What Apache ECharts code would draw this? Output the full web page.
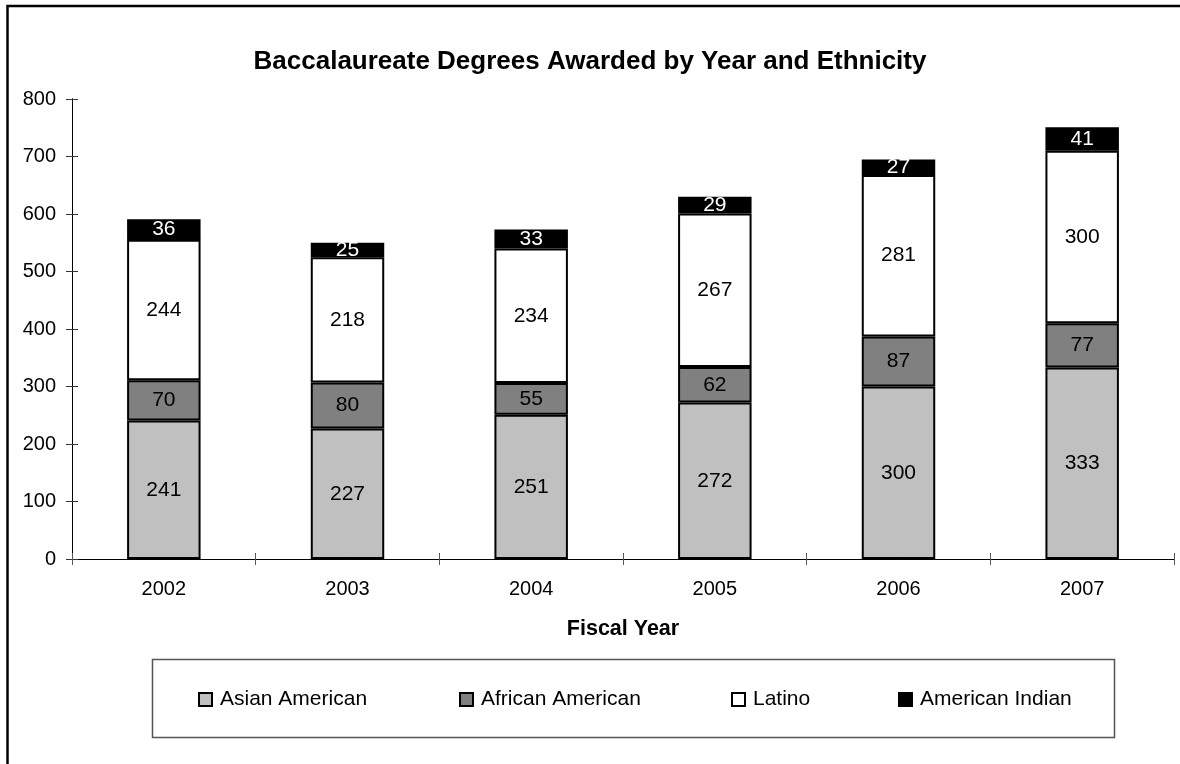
<!DOCTYPE html>
<html>
<head>
<meta charset="utf-8">
<script src="https://cdn.jsdelivr.net/npm/echarts@6/dist/echarts.min.js"></script>
<style>
html,body{margin:0;padding:0;background:#fff;}
#main{width:1180px;height:764px;}
</style>
</head>
<body>
<div id="main"></div>
<script>
const categories = ['2002', '2003', '2004', '2005', '2006', '2007'];
const asianAmerican = [241, 227, 251, 272, 300, 333];
const africanAmerican = [70, 80, 55, 62, 87, 77];
const latino = [244, 218, 234, 267, 281, 300];
const americanIndian = [36, 25, 33, 29, 27, 41];
const seriesNames = ['Asian American', 'African American', 'Latino', 'American Indian'];
const yTicks = [0, 100, 200, 300, 400, 500, 600, 700, 800];

const FONT = "'Liberation Sans', Arial, sans-serif";
const colors = ['#C0C0C0', '#808080', '#FFFFFF', '#000000'];
const labelColors = ['#000', '#000', '#000', '#fff'];
const dataSets = [asianAmerican, africanAmerican, latino, americanIndian];

const chart = echarts.init(document.getElementById('main'));

const series = seriesNames.map((name, i) => ({
  name: name,
  type: 'bar',
  stack: 'total',
  xAxisIndex: 0,
  yAxisIndex: 0,
  barWidth: '40%',
  data: dataSets[i],
  itemStyle: { color: colors[i], borderColor: '#000', borderWidth: 2 },
  label: {
    show: true,
    position: 'inside',
    color: labelColors[i],
    fontFamily: FONT,
    fontSize: 21
  },
  emphasis: { disabled: true },
  animation: false
}));

const legendLefts = [198, 459, 731, 898];
const legends = seriesNames.map((name, i) => ({
  data: [name],
  left: legendLefts[i],
  top: 689,
  padding: 0,
  orient: 'horizontal',
  icon: 'rect',
  itemWidth: 13,
  itemHeight: 13,
  itemGap: 0,
  itemStyle: { borderColor: '#000', borderWidth: 2 },
  textStyle: { fontFamily: FONT, fontSize: 21, color: '#000', padding: [0, 0, 0, 3] },
  selectedMode: false
}));

chart.setOption({
  animation: false,
  backgroundColor: '#fff',
  title: {
    text: 'Baccalaureate Degrees Awarded by Year and Ethnicity',
    left: 'center',
    top: 44,
    textStyle: { fontFamily: FONT, fontSize: 26, fontWeight: 'bold', color: '#000' }
  },
  legend: legends,
  grid: { left: 72, right: 6, top: 99, bottom: 205, containLabel: false },
  xAxis: [{
    type: 'category',
    data: categories,
    position: 'bottom',
    axisLine: { lineStyle: { color: '#000', width: 1 } },
    axisTick: { show: true, inside: false, length: 6, lineStyle: { color: '#555' } },
    axisLabel: { fontFamily: FONT, fontSize: 20, color: '#000', margin: 20 },
    name: 'Fiscal Year',
    nameLocation: 'middle',
    nameGap: 59,
    nameTextStyle: { fontFamily: FONT, fontSize: 21.5, fontWeight: 'bold', color: '#000' }
  }, {
    type: 'category',
    data: categories,
    position: 'bottom',
    axisLine: { lineStyle: { color: '#000', width: 1 } },
    axisTick: { show: true, inside: true, length: 6, lineStyle: { color: '#555' } },
    axisLabel: { show: false }
  }],
  yAxis: [{
    type: 'value',
    min: yTicks[0],
    max: yTicks[yTicks.length - 1],
    interval: 100,
    axisLine: { show: true, lineStyle: { color: '#000', width: 1 } },
    axisTick: { show: true, inside: false, length: 6, lineStyle: { color: '#333' } },
    splitLine: { show: false },
    axisLabel: { fontFamily: FONT, fontSize: 20, color: '#000', margin: 16 }
  }, {
    type: 'value',
    position: 'left',
    min: yTicks[0],
    max: yTicks[yTicks.length - 1],
    interval: 100,
    axisLine: { show: true, lineStyle: { color: '#000', width: 1 } },
    axisTick: { show: true, inside: true, length: 6, lineStyle: { color: '#333' } },
    splitLine: { show: false },
    axisLabel: { show: false }
  }],
  graphic: [{
    type: 'rect',
    shape: { x: 7.5, y: 6, width: 2000, height: 2000 },
    style: { fill: 'none', stroke: '#000', lineWidth: 2.5 },
    silent: true
  }, {
    type: 'rect',
    shape: { x: 152.5, y: 659.5, width: 962, height: 78 },
    style: { fill: 'none', stroke: '#555', lineWidth: 1.5 },
    silent: true,
    z: -1
  }],
  series: series
});
</script>
</body>
</html>
